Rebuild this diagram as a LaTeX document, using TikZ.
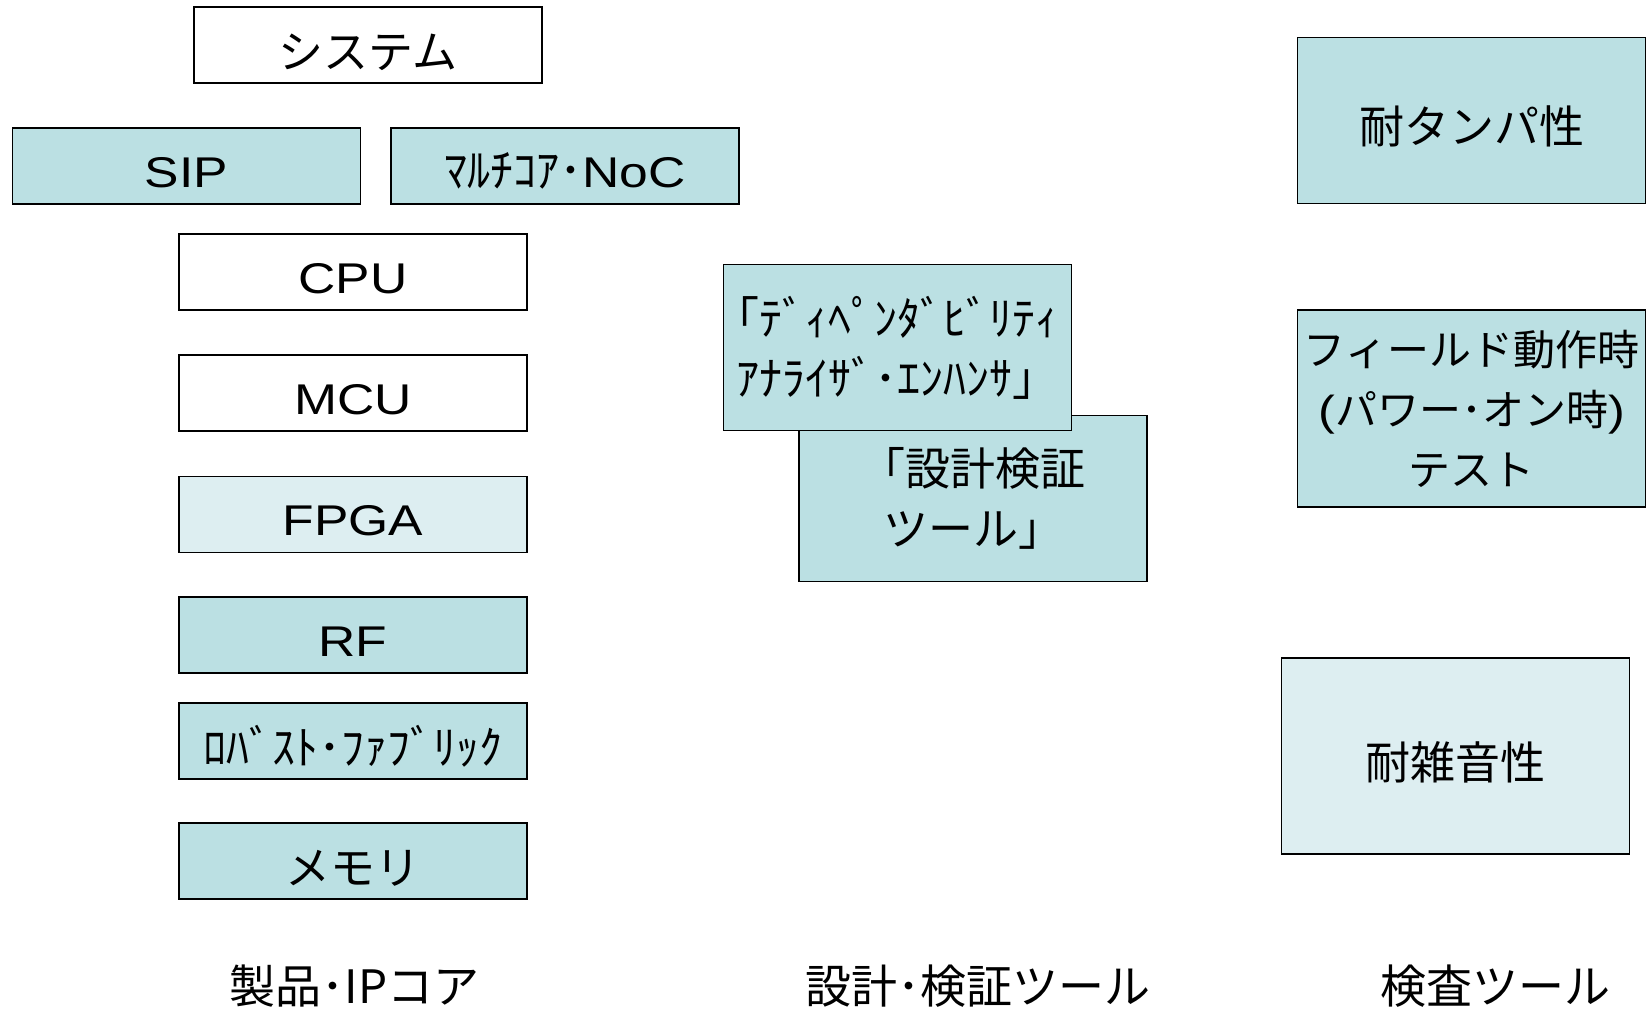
\documentclass[tikz,border=0pt]{standalone}
\usepackage{fontspec}
\setmainfont[FakeStretch=1.2]{Liberation Sans}
\newfontfamily\cjk{Noto Sans CJK JP}
\definecolor{teal20}{HTML}{BBE0E3}
\definecolor{teal10}{HTML}{DDEEF1}

\begin{document}
\begin{tikzpicture}[x=1pt, y=-1pt,
  every node/.style = {shape=rectangle, align=center, inner sep=0pt},
  box/.style = {draw, line width=1.8pt,
    minimum width=348pt, minimum height=76pt},
  big/.style = {box, minimum height=166pt},
  en/.style = {font=\fontsize{43}{60}\selectfont,
    text height=42pt, text depth=0pt},
  jp/.style = {font=\cjk\fontsize{45}{60}\selectfont},
  jpone/.style = {jp, text height=46pt, text depth=0pt},
  hw/.style = {font=\cjk\fontsize{46}{60}\selectfont},
  coltitle/.style = {anchor=base, font=\cjk\fontsize{46}{60}\selectfont}
  ]
  \useasboundingbox (0,0) rectangle (1647,1010);
  % products / IP cores
  \node[box, jpone, fill=white] (system) at (368,45) {システム};
  \node[box, en, fill=teal20] (sip) at (186.5,166) {SIP};
  \node[box, en, fill=teal20] (noc) at (565,166)
    {{\cjk\fontsize{46}{60}\selectfont ﾏﾙﾁｺｱ･}NoC};
  \node[box, en, fill=white] (cpu) at (353,272) {CPU};
  \node[box, en, fill=white] (mcu) at (353,393) {MCU};
  \node[box, en, fill=teal10] (fpga) at (353,514.5) {FPGA};
  \node[box, en, fill=teal20] (rf) at (353,635) {RF};
  \node[box, hw, text height=46pt, text depth=0pt, fill=teal20] (fabric)
    at (353,741) {ﾛﾊﾞｽﾄ･ﾌｧﾌﾞﾘｯｸ};
  \node[box, jpone, fill=teal20] (memory) at (353,861) {メモリ};
  % design / verification tools
  \node[big, jp, fill=teal20] (verify) at (973,498.5) {「設計検証\\ツール」};
  \node[big, hw, fill=teal20] (enhancer) at (897.5,347.5)
    {｢ﾃﾞｨﾍﾟﾝﾀﾞﾋﾞﾘﾃｨ\\ｱﾅﾗｲｻﾞ･ｴﾝﾊﾝｻ」};
  % test tools
  \node[big, jpone, fill=teal20] (tamper) at (1471.5,120.5) {耐タンパ性};
  \node[big, jp, font=\cjk\fontsize{42}{60}\selectfont, fill=teal20,
    minimum height=197pt] (field) at (1471.5,408.5)
    {フィールド動作時\\{\rmfamily(}パワー･オン時{\rmfamily)}\\テスト};
  \node[big, jpone, fill=teal10, minimum height=196pt] (noise)
    at (1455.5,756) {耐雑音性};
  % column titles
  \node[coltitle] (products) at (354.5,1003) {製品･IPコア};
  \node[coltitle] (designtools) at (977.5,1003) {設計･検証ツール};
  \node[coltitle] (testtools) at (1495.5,1003) {検査ツール};
\end{tikzpicture}
\end{document}
